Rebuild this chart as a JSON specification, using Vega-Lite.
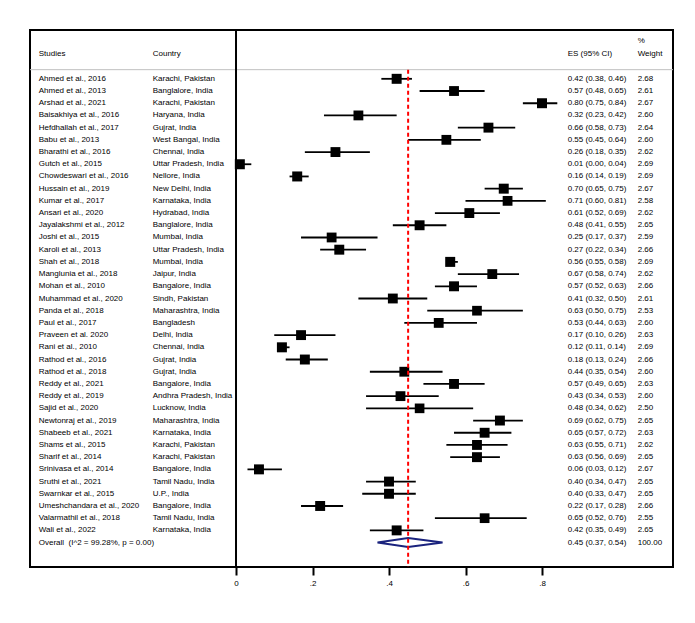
{
  "$schema": "https://vega.github.io/schema/vega-lite/v6.json",
  "width": 643,
  "height": 537,
  "padding": {"left": 29, "top": 29, "right": 23, "bottom": 5},
  "config": {
    "view": {"stroke": "black", "strokeWidth": 2},
    "text": {"font": "Liberation Sans", "fontSize": 8, "color": "black", "align": "left", "baseline": "middle"}
  },
  "data": {
    "values": [
      {"study": "Ahmed et al., 2016", "country": "Karachi, Pakistan", "es": 0.42, "lo": 0.38, "hi": 0.46, "weight": 2.68},
      {"study": "Ahmed et al., 2013", "country": "Banglalore, India", "es": 0.57, "lo": 0.48, "hi": 0.65, "weight": 2.61},
      {"study": "Arshad et al., 2021", "country": "Karachi, Pakistan", "es": 0.80, "lo": 0.75, "hi": 0.84, "weight": 2.67},
      {"study": "Baisakhiya et al., 2016", "country": "Haryana, India", "es": 0.32, "lo": 0.23, "hi": 0.42, "weight": 2.60},
      {"study": "Hefdhallah et al., 2017", "country": "Gujrat, India", "es": 0.66, "lo": 0.58, "hi": 0.73, "weight": 2.64},
      {"study": "Babu et al., 2013", "country": "West Bangal, India", "es": 0.55, "lo": 0.45, "hi": 0.64, "weight": 2.60},
      {"study": "Bharathi et al., 2016", "country": "Chennai, India", "es": 0.26, "lo": 0.18, "hi": 0.35, "weight": 2.62},
      {"study": "Gutch et al., 2015", "country": "Uttar Pradesh, India", "es": 0.01, "lo": 0.00, "hi": 0.04, "weight": 2.69},
      {"study": "Chowdeswari et al., 2016", "country": "Nellore, India", "es": 0.16, "lo": 0.14, "hi": 0.19, "weight": 2.69},
      {"study": "Hussain et al., 2019", "country": "New Delhi, India", "es": 0.70, "lo": 0.65, "hi": 0.75, "weight": 2.67},
      {"study": "Kumar et al., 2017", "country": "Karnataka, India", "es": 0.71, "lo": 0.60, "hi": 0.81, "weight": 2.58},
      {"study": "Ansari et al., 2020", "country": "Hydrabad, India", "es": 0.61, "lo": 0.52, "hi": 0.69, "weight": 2.62},
      {"study": "Jayalakshmi et al., 2012", "country": "Banglalore, India", "es": 0.48, "lo": 0.41, "hi": 0.55, "weight": 2.65},
      {"study": "Joshi et al., 2015", "country": "Mumbai, India", "es": 0.25, "lo": 0.17, "hi": 0.37, "weight": 2.59},
      {"study": "Karoli et al., 2013", "country": "Uttar Pradesh, India", "es": 0.27, "lo": 0.22, "hi": 0.34, "weight": 2.66},
      {"study": "Shah et al., 2018", "country": "Mumbai, India", "es": 0.56, "lo": 0.55, "hi": 0.58, "weight": 2.69},
      {"study": "Manglunia et al., 2018", "country": "Jaipur, India", "es": 0.67, "lo": 0.58, "hi": 0.74, "weight": 2.62},
      {"study": "Mohan et al., 2010", "country": "Bangalore, India", "es": 0.57, "lo": 0.52, "hi": 0.63, "weight": 2.66},
      {"study": "Muhammad et al., 2020", "country": "Sindh, Pakistan", "es": 0.41, "lo": 0.32, "hi": 0.50, "weight": 2.61},
      {"study": "Panda et al., 2018", "country": "Maharashtra, India", "es": 0.63, "lo": 0.50, "hi": 0.75, "weight": 2.53},
      {"study": "Paul et al., 2017", "country": "Bangladesh", "es": 0.53, "lo": 0.44, "hi": 0.63, "weight": 2.60},
      {"study": "Praveen et al. 2020", "country": "Delhi, India", "es": 0.17, "lo": 0.10, "hi": 0.26, "weight": 2.63},
      {"study": "Rani et al., 2010", "country": "Chennai, India", "es": 0.12, "lo": 0.11, "hi": 0.14, "weight": 2.69},
      {"study": "Rathod et al., 2016", "country": "Gujrat, India", "es": 0.18, "lo": 0.13, "hi": 0.24, "weight": 2.66},
      {"study": "Rathod et al., 2018", "country": "Gujrat, India", "es": 0.44, "lo": 0.35, "hi": 0.54, "weight": 2.60},
      {"study": "Reddy et al., 2021", "country": "Bangalore, India", "es": 0.57, "lo": 0.49, "hi": 0.65, "weight": 2.63},
      {"study": "Reddy et al., 2019", "country": "Andhra Pradesh, India", "es": 0.43, "lo": 0.34, "hi": 0.53, "weight": 2.60},
      {"study": "Sajid et al., 2020", "country": "Lucknow, India", "es": 0.48, "lo": 0.34, "hi": 0.62, "weight": 2.50},
      {"study": "Newtonraj et al., 2019", "country": "Maharashtra, India", "es": 0.69, "lo": 0.62, "hi": 0.75, "weight": 2.65},
      {"study": "Shabeeb et al., 2021", "country": "Karnataka, India", "es": 0.65, "lo": 0.57, "hi": 0.72, "weight": 2.63},
      {"study": "Shams et al., 2015", "country": "Karachi, Pakistan", "es": 0.63, "lo": 0.55, "hi": 0.71, "weight": 2.62},
      {"study": "Sharif et al., 2014", "country": "Karachi, Pakistan", "es": 0.63, "lo": 0.56, "hi": 0.69, "weight": 2.65},
      {"study": "Srinivasa et al., 2014", "country": "Bangalore, India", "es": 0.06, "lo": 0.03, "hi": 0.12, "weight": 2.67},
      {"study": "Sruthi et al., 2021", "country": "Tamil Nadu, India", "es": 0.40, "lo": 0.34, "hi": 0.47, "weight": 2.65},
      {"study": "Swarnkar et al., 2015", "country": "U.P., India", "es": 0.40, "lo": 0.33, "hi": 0.47, "weight": 2.65},
      {"study": "Umeshchandara et al., 2020", "country": "Bangalore, India", "es": 0.22, "lo": 0.17, "hi": 0.28, "weight": 2.66},
      {"study": "Valarmathil et al., 2018", "country": "Tamil Nadu, India", "es": 0.65, "lo": 0.52, "hi": 0.76, "weight": 2.55},
      {"study": "Wali et al., 2022", "country": "Karnataka, India", "es": 0.42, "lo": 0.35, "hi": 0.49, "weight": 2.65},
      {"study": "Overall\u00a0 (I^2 = 99.28%, p = 0.00)", "country": "", "es": 0.45, "lo": 0.37, "hi": 0.54, "weight": 100.00}
    ]
  },
  "transform": [{"window": [{"op": "row_number", "as": "row"}]}],
  "layer": [
    {
      "transform": [{"filter": "datum.weight < 100"}],
      "mark": {"type": "rule", "color": "black", "strokeWidth": 1.8},
      "encoding": {
        "x": {
          "field": "lo", "type": "quantitative", "title": null,
          "scale": {"domain": [-0.5386, 1.1425], "nice": false, "zero": false},
          "axis": {
            "values": [0, 0.2, 0.4, 0.6, 0.8],
            "labelExpr": "datum.value == 0 ? '0' : '.' + round(datum.value * 10)",
            "domain": false, "grid": false, "title": null,
            "tickColor": "black", "tickWidth": 2, "tickSize": 8,
            "labelFont": "Liberation Sans", "labelFontSize": 8, "labelColor": "black",
            "labelPadding": 4, "labelFlush": false
          }
        },
        "x2": {"field": "hi"},
        "y": {"field": "row", "type": "quantitative", "scale": {"domain": [-3, 41], "reverse": true, "nice": false, "zero": false}, "axis": null}
      }
    },
    {
      "data": {"values": [{}]},
      "mark": {"type": "rule", "color": "#c0c0c0", "strokeWidth": 1},
      "encoding": {
        "y": {"datum": 0.25, "type": "quantitative", "axis": null}
      }
    },
    {
      "data": {"values": [{}]},
      "mark": {"type": "rule", "color": "black", "strokeWidth": 2},
      "encoding": {
        "x": {"datum": 0, "type": "quantitative"},
        "y": {"datum": -3, "type": "quantitative", "axis": null},
        "y2": {"datum": 41}
      }
    },
    {
      "transform": [{"filter": "datum.weight < 100"}],
      "mark": {"type": "point", "shape": "square", "filled": true, "color": "black", "opacity": 1},
      "encoding": {
        "x": {"field": "es", "type": "quantitative", "title": null},
        "y": {"field": "row", "type": "quantitative", "axis": null},
        "size": {"field": "weight", "type": "quantitative", "scale": {"domain": [0, 2.69], "range": [0, 100], "zero": true}, "legend": null}
      }
    },
    {
      "transform": [{"filter": "datum.weight >= 100"}],
      "mark": {"type": "point", "shape": "M-0.889,0L0,-0.131L1,0L0,0.131Z", "size": 4740, "filled": false, "fill": "white", "fillOpacity": 1, "stroke": "#1a237e", "strokeWidth": 2, "opacity": 1},
      "encoding": {
        "x": {"field": "es", "type": "quantitative", "title": null},
        "y": {"field": "row", "type": "quantitative", "axis": null}
      }
    },
    {
      "data": {"values": [{}]},
      "mark": {"type": "rule", "color": "#ff0000", "strokeWidth": 2, "strokeDash": [4, 3]},
      "encoding": {
        "x": {"datum": 0.45, "type": "quantitative"},
        "y": {"datum": 0.25, "type": "quantitative", "axis": null},
        "y2": {"datum": 41}
      }
    },
    {
      "mark": {"type": "text"},
      "encoding": {
        "x": {"datum": -0.5158, "type": "quantitative"},
        "y": {"field": "row", "type": "quantitative", "axis": null},
        "text": {"field": "study"}
      }
    },
    {
      "mark": {"type": "text"},
      "encoding": {
        "x": {"datum": -0.2178, "type": "quantitative"},
        "y": {"field": "row", "type": "quantitative", "axis": null},
        "text": {"field": "country"}
      }
    },
    {
      "transform": [{"calculate": "format(datum.es, '.2f') + ' (' + format(datum.lo, '.2f') + ', ' + format(datum.hi, '.2f') + ')'", "as": "ci"}],
      "mark": {"type": "text"},
      "encoding": {
        "x": {"datum": 0.8672, "type": "quantitative"},
        "y": {"field": "row", "type": "quantitative", "axis": null},
        "text": {"field": "ci"}
      }
    },
    {
      "transform": [{"calculate": "format(datum.weight, '.2f')", "as": "wt"}],
      "mark": {"type": "text"},
      "encoding": {
        "x": {"datum": 1.0502, "type": "quantitative"},
        "y": {"field": "row", "type": "quantitative", "axis": null},
        "text": {"field": "wt"}
      }
    },
    {
      "data": {"values": [{}]},
      "mark": {"type": "text", "text": "Studies"},
      "encoding": {
        "x": {"datum": -0.5158, "type": "quantitative"},
        "y": {"datum": -1, "type": "quantitative", "axis": null}
      }
    },
    {
      "data": {"values": [{}]},
      "mark": {"type": "text", "text": "Country"},
      "encoding": {
        "x": {"datum": -0.2178, "type": "quantitative"},
        "y": {"datum": -1, "type": "quantitative", "axis": null}
      }
    },
    {
      "data": {"values": [{}]},
      "mark": {"type": "text", "text": "ES (95% CI)"},
      "encoding": {
        "x": {"datum": 0.8672, "type": "quantitative"},
        "y": {"datum": -1, "type": "quantitative", "axis": null}
      }
    },
    {
      "data": {"values": [{}]},
      "mark": {"type": "text", "text": "%"},
      "encoding": {
        "x": {"datum": 1.0502, "type": "quantitative"},
        "y": {"datum": -2.1, "type": "quantitative", "axis": null}
      }
    },
    {
      "data": {"values": [{}]},
      "mark": {"type": "text", "text": "Weight"},
      "encoding": {
        "x": {"datum": 1.0502, "type": "quantitative"},
        "y": {"datum": -1, "type": "quantitative", "axis": null}
      }
    }
  ]
}
